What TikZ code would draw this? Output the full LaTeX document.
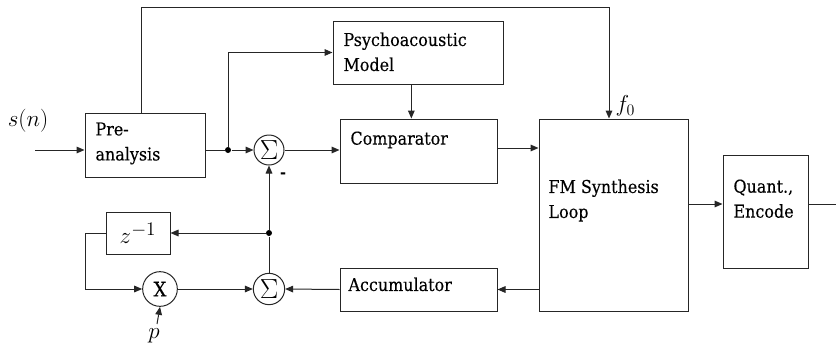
\documentclass[tikz,border=0pt]{standalone}
\usepackage{fontspec}
\setmainfont{DejaVu Serif Condensed}[FakeBold=0.25]
\usetikzlibrary{arrows.meta,calc}
\begin{document}
\begin{tikzpicture}[x=0.75pt,y=-0.75pt,
  line width=0.75pt,
  ln/.style={draw=black!85},
  arr/.style={draw=black!85,-{Triangle[length=6pt,width=5pt]}},
  box/.style={draw=black!85,rectangle,inner sep=0pt},
  circ/.style={draw=black!85,circle,inner sep=0pt},
  sig/.style={label={[inner sep=0pt,font=\fontsize{22}{24}\selectfont]center:$\Sigma$}},
  lbl/.style={inner sep=0pt,anchor=north west,align=left,font=\fontsize{13.3}{18.75}\selectfont},
  dot/.style={circle,fill=black,inner sep=0pt,minimum size=4.5pt},
  mlbl/.style={inner sep=0pt,font=\fontsize{17}{19}\selectfont}]
\useasboundingbox (0,0) rectangle (836,351);
% boxes
\node[box,minimum width=90pt,minimum height=48pt] (pre) at (145,145) {};
\node[box,minimum width=127.5pt,minimum height=47.25pt] (psy) at (418,52.5) {};
\node[box,minimum width=117.75pt,minimum height=48pt] (cmp) at (418.5,151) {};
\node[box,minimum width=111.75pt,minimum height=144pt] (fm) at (613.5,215) {};
\node[box,minimum width=63.75pt,minimum height=84.75pt] (qe) at (765.5,211.5) {};
\node[box,minimum width=117.75pt,minimum height=32.25pt] (acc) at (418.5,289.5) {};
\node[box,minimum width=48pt,minimum height=31.5pt] (zd) at (138,233) {\fontsize{19}{21}\selectfont$z^{-1}$};
% circles
\node[circ,minimum size=22.5pt,sig] (s1) at (269,150) {};
\node[circ,minimum size=23.5pt,sig] (s2) at (269,289) {};
\node[circ,minimum size=26pt] (mx) at (160,289) {\fontsize{15}{17}\selectfont X};
% texts
\node[lbl] (tpre) at (95,122) {Pre-\\analysis};
\node[lbl] (tpsy) at (343,32) {Psychoacoustic\\Model};
\node[lbl] (tcmp) at (350,131) {Comparator};
\node[lbl] (tfm) at (548,179) {FM Synthesis\\Loop};
\node[lbl] (tqe) at (733,179) {Quant.,\\Encode};
\node[lbl] (tacc) at (348,277) {Accumulator};
\node[mlbl] (sn) at (28,121) {$s(n)$};
\node[mlbl,anchor=west] (f0) at (615,106) {$f_0$};
\node[mlbl] (pl) at (154,336) {$p$};
\node[inner sep=0pt,font=\bfseries\fontsize{12}{14}\selectfont] (minus) at (283,175) {-};
% coordinates
\coordinate (in) at (35,150);
\coordinate (d1) at (228,150);
\coordinate (d2) at (269,233);
\coordinate (topc) at (609,7);
\coordinate (lc) at (85,233);
\coordinate (pc) at (157,324);
\coordinate (out) at (844,204);
\node[dot] (dd1) at (d1) {};
\node[dot] (dd2) at (d2) {};
% connectors
\draw[arr] (in) -- (in -| pre.west);
\draw[ln] (pre.east |- d1) -- (dd1);
\draw[arr] (dd1) -- (s1.west);
\draw[arr] (dd1) |- (psy.west);
\draw[arr] ([xshift=-5pt]psy.south) -- ([xshift=-5pt]psy.south |- cmp.north);
\draw[arr] (s1.east) -- (s1.east -| cmp.west);
\draw[arr] (cmp.east |- 0,148) -- (fm.west |- 0,148);
\draw[arr] ([xshift=-3pt]pre.north) |- (topc) -- (topc |- fm.north);
\draw[arr] (fm.east |- 0,204) -- (qe.west |- 0,204);
\draw[arr] (qe.east |- 0,204) -- (out);
\draw[arr] (fm.west |- acc.east) -- (acc.east);
\draw[arr] (acc.west) -- (s2.east);
\draw[ln] (s2.north) -- (dd2);
\draw[arr] (dd2) -- (s1.south);
\draw[arr] (dd2) -- (zd.east);
\draw[arr] (zd.west) -- (lc) |- (mx.west);
\draw[arr] (mx.east) -- (s2.west);
\draw[arr] (pc) -- (mx.south);
\end{tikzpicture}
\end{document}
